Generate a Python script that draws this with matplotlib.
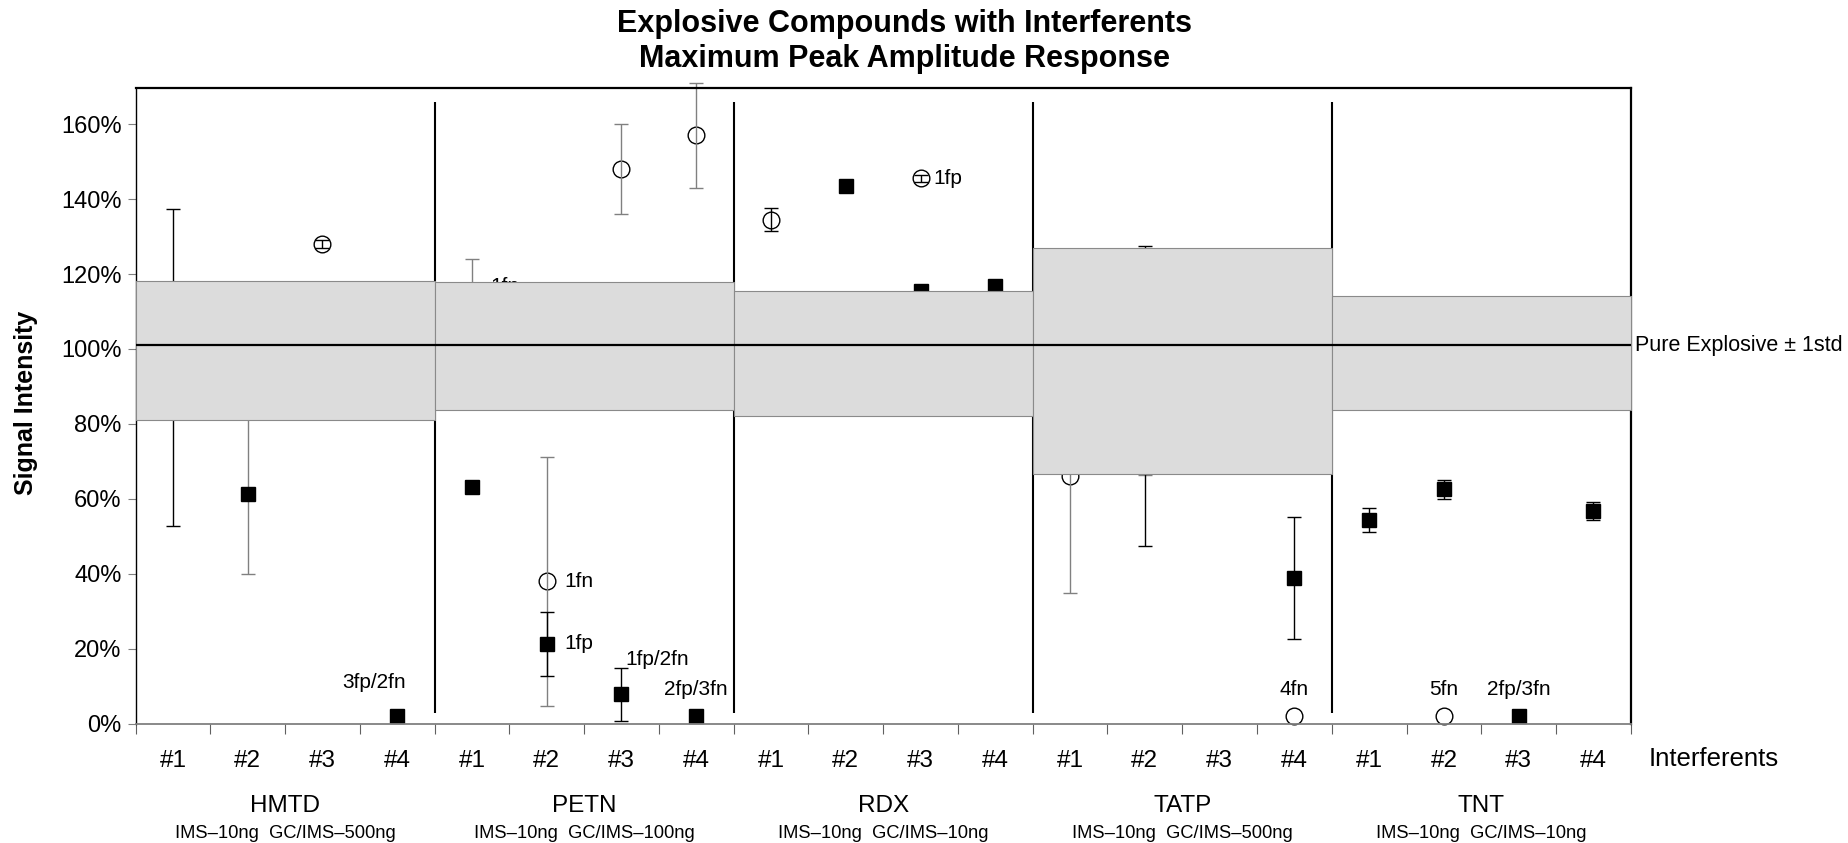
import numpy as np
import matplotlib
matplotlib.use('Agg')
import matplotlib.pyplot as plt

plt.rcParams['font.family'] = ['Liberation Sans', 'DejaVu Sans']

nan = np.nan

# explosives and the amount used on each instrument
groups = ['HMTD', 'PETN', 'RDX', 'TATP', 'TNT']
amounts = ['IMS\u201310ng  GC/IMS\u2013500ng', 'IMS\u201310ng  GC/IMS\u2013100ng',
           'IMS\u201310ng  GC/IMS\u201310ng', 'IMS\u201310ng  GC/IMS\u2013500ng',
           'IMS\u201310ng  GC/IMS\u201310ng']
interferents = ['#1', '#2', '#3', '#4']

# IMS response (open circles), % of pure explosive, per group
ims_mean = [[95, nan, 128, nan],
            [114, 38, 148, 157],
            [134.5, nan, 145.5, nan],
            [66, 96, nan, 2.2],
            [nan, 2.2, nan, nan]]
ims_err = [[42.3, nan, 1.0, nan],
           [10, 33.3, 12, 14],
           [3, nan, 1, nan],
           [31, 29.5, nan, nan],
           [nan, nan, nan, nan]]

# GC/IMS response (filled squares)
gc_mean = [[nan, 61.2, nan, 2.2],
           [63.2, 21.4, 7.9, 2.2],
           [nan, 143.4, 115.6, 116.8],
           [nan, 87.5, nan, 38.9],
           [54.4, 62.6, 2.2, 56.9]]
gc_err = [[nan, 21.3, nan, 0.6],
          [1.5, 8.5, 7, 0.6],
          [nan, 0.5, 0.5, 1],
          [nan, 40, nan, 16.3],
          [3.1, 2.5, 0.6, 2.4]]

# pure explosive mean +/- 1std band per group
pure_mean = 101
band_lo = [81.1, 83.8, 82.2, 66.7, 83.8]
band_hi = [118.2, 117.8, 115.6, 127.0, 114.0]

# false positive / false negative notes: (group, interferent, series, text, placement)
notes = [(0, 3, 'gc', '3fp/2fn', 'above_left'),
         (1, 0, 'ims', '1fn', 'right_up'),
         (1, 1, 'ims', '1fn', 'right'),
         (1, 1, 'gc', '1fp', 'right'),
         (1, 2, 'gc', '1fp/2fn', 'above_right'),
         (1, 3, 'gc', '2fp/3fn', 'above'),
         (2, 2, 'ims', '1fp', 'right_close'),
         (3, 3, 'ims', '4fn', 'above'),
         (4, 1, 'ims', '5fn', 'above'),
         (4, 2, 'gc', '2fp/3fn', 'above')]

placement = {'right': ((13, 0), 'left'),
             'right_up': ((13, 7), 'left'),
             'right_close': ((9, 0), 'left'),
             'above': ((0, 19), 'center'),
             'above_left': ((-17, 24), 'center'),
             'above_right': ((26, 25), 'center'),
             }

# errorbar colours differ between the original sub-charts
ims_ecolor = ['black', '#808080', 'black', '#808080', '#808080']
gc_ecolor = ['#808080', 'black', 'black', 'black', 'black']

fig = plt.figure(figsize=(18.49, 8.43), dpi=100)
ax = fig.add_axes([0.0733, 0.1413, 0.8087, 0.7538])

n = len(interferents)
for g in range(len(groups)):
    x = g * n + np.arange(n)
    # circles first, their error bars drawn over them
    ax.plot(x, ims_mean[g], 'o', ms=12, mfc='white', mec='black', mew=1.0,
            zorder=2, clip_on=False)
    ax.errorbar(x, ims_mean[g], yerr=ims_err[g], fmt='none',
                ecolor=ims_ecolor[g], elinewidth=1.0, capsize=5, capthick=1.0,
                zorder=2.2, clip_on=False)
    ax.errorbar(x, gc_mean[g], yerr=gc_err[g], fmt='s', ms=10, color='black',
                ecolor=gc_ecolor[g], elinewidth=1.0, capsize=5, capthick=1.0,
                zorder=2.3, clip_on=False)
    ax.fill_between([g * n - 0.5, g * n + n - 0.5], band_lo[g], band_hi[g],
                    facecolor='#dcdcdc', edgecolor='#8a8a8a', lw=0.8, zorder=3)

# separators between explosives
ax.vlines([g * n - 0.5 for g in range(1, len(groups))], 3, 166,
          color='black', lw=1.5, zorder=1)

ax.axhline(pure_mean, color='black', lw=1.6, zorder=4)

for g, i, s, txt, where in notes:
    yv = ims_mean[g][i] if s == 'ims' else gc_mean[g][i]
    off, ha = placement[where]
    ax.annotate(txt, (g * n + i, yv), xytext=off, textcoords='offset points',
                ha=ha, va='center', fontsize=15, zorder=2)

ax.set_xlim(-0.5, len(groups) * n - 0.5)
ax.set_ylim(0, 169.5)
ax.set_yticks(np.arange(0, 161, 20))
ax.set_yticklabels(['%d%%' % v for v in range(0, 161, 20)], fontsize=17)
ax.tick_params(axis='y', direction='out', length=6, color='#808080', pad=4)

ax.set_xticks(np.arange(-0.5, len(groups) * n, 1))
ax.set_xticklabels([])
ax.set_xticks(np.arange(len(groups) * n), minor=True)
ax.set_xticklabels(interferents * len(groups), minor=True, fontsize=17.5)
ax.tick_params(axis='x', which='major', direction='out', length=7, color='#606060')
ax.tick_params(axis='x', which='minor', length=0, pad=19)

for side in ['top', 'right']:
    ax.spines[side].set_linewidth(1.6)
ax.spines['left'].set_linewidth(1.0)
ax.spines['bottom'].set_color('#808080')
ax.spines['bottom'].set_linewidth(1.3)

for g in range(len(groups)):
    xc = g * n + (n - 1) / 2
    ax.text(xc, -0.129, groups[g], transform=ax.get_xaxis_transform(),
            ha='center', va='center', fontsize=17.5)
    ax.text(xc, -0.172, amounts[g], transform=ax.get_xaxis_transform(),
            ha='center', va='center', fontsize=13.2)

ax.text(1.012, -0.055, 'Interferents', transform=ax.transAxes,
        ha='left', va='center', fontsize=18.5)
ax.text(1.003, pure_mean, 'Pure Explosive \u00b1 1std',
        transform=ax.get_yaxis_transform(), ha='left', va='center', fontsize=15.5)

fig.text(0.014, 0.522, 'Signal Intensity', rotation=90, ha='center', va='center',
         fontsize=18, fontweight='bold')
fig.text(0.489, 0.951, 'Explosive Compounds with Interferents\nMaximum Peak Amplitude Response',
         ha='center', va='center', fontsize=22, fontweight='bold', linespacing=1.2)

fig.savefig('out.png', dpi=100)
